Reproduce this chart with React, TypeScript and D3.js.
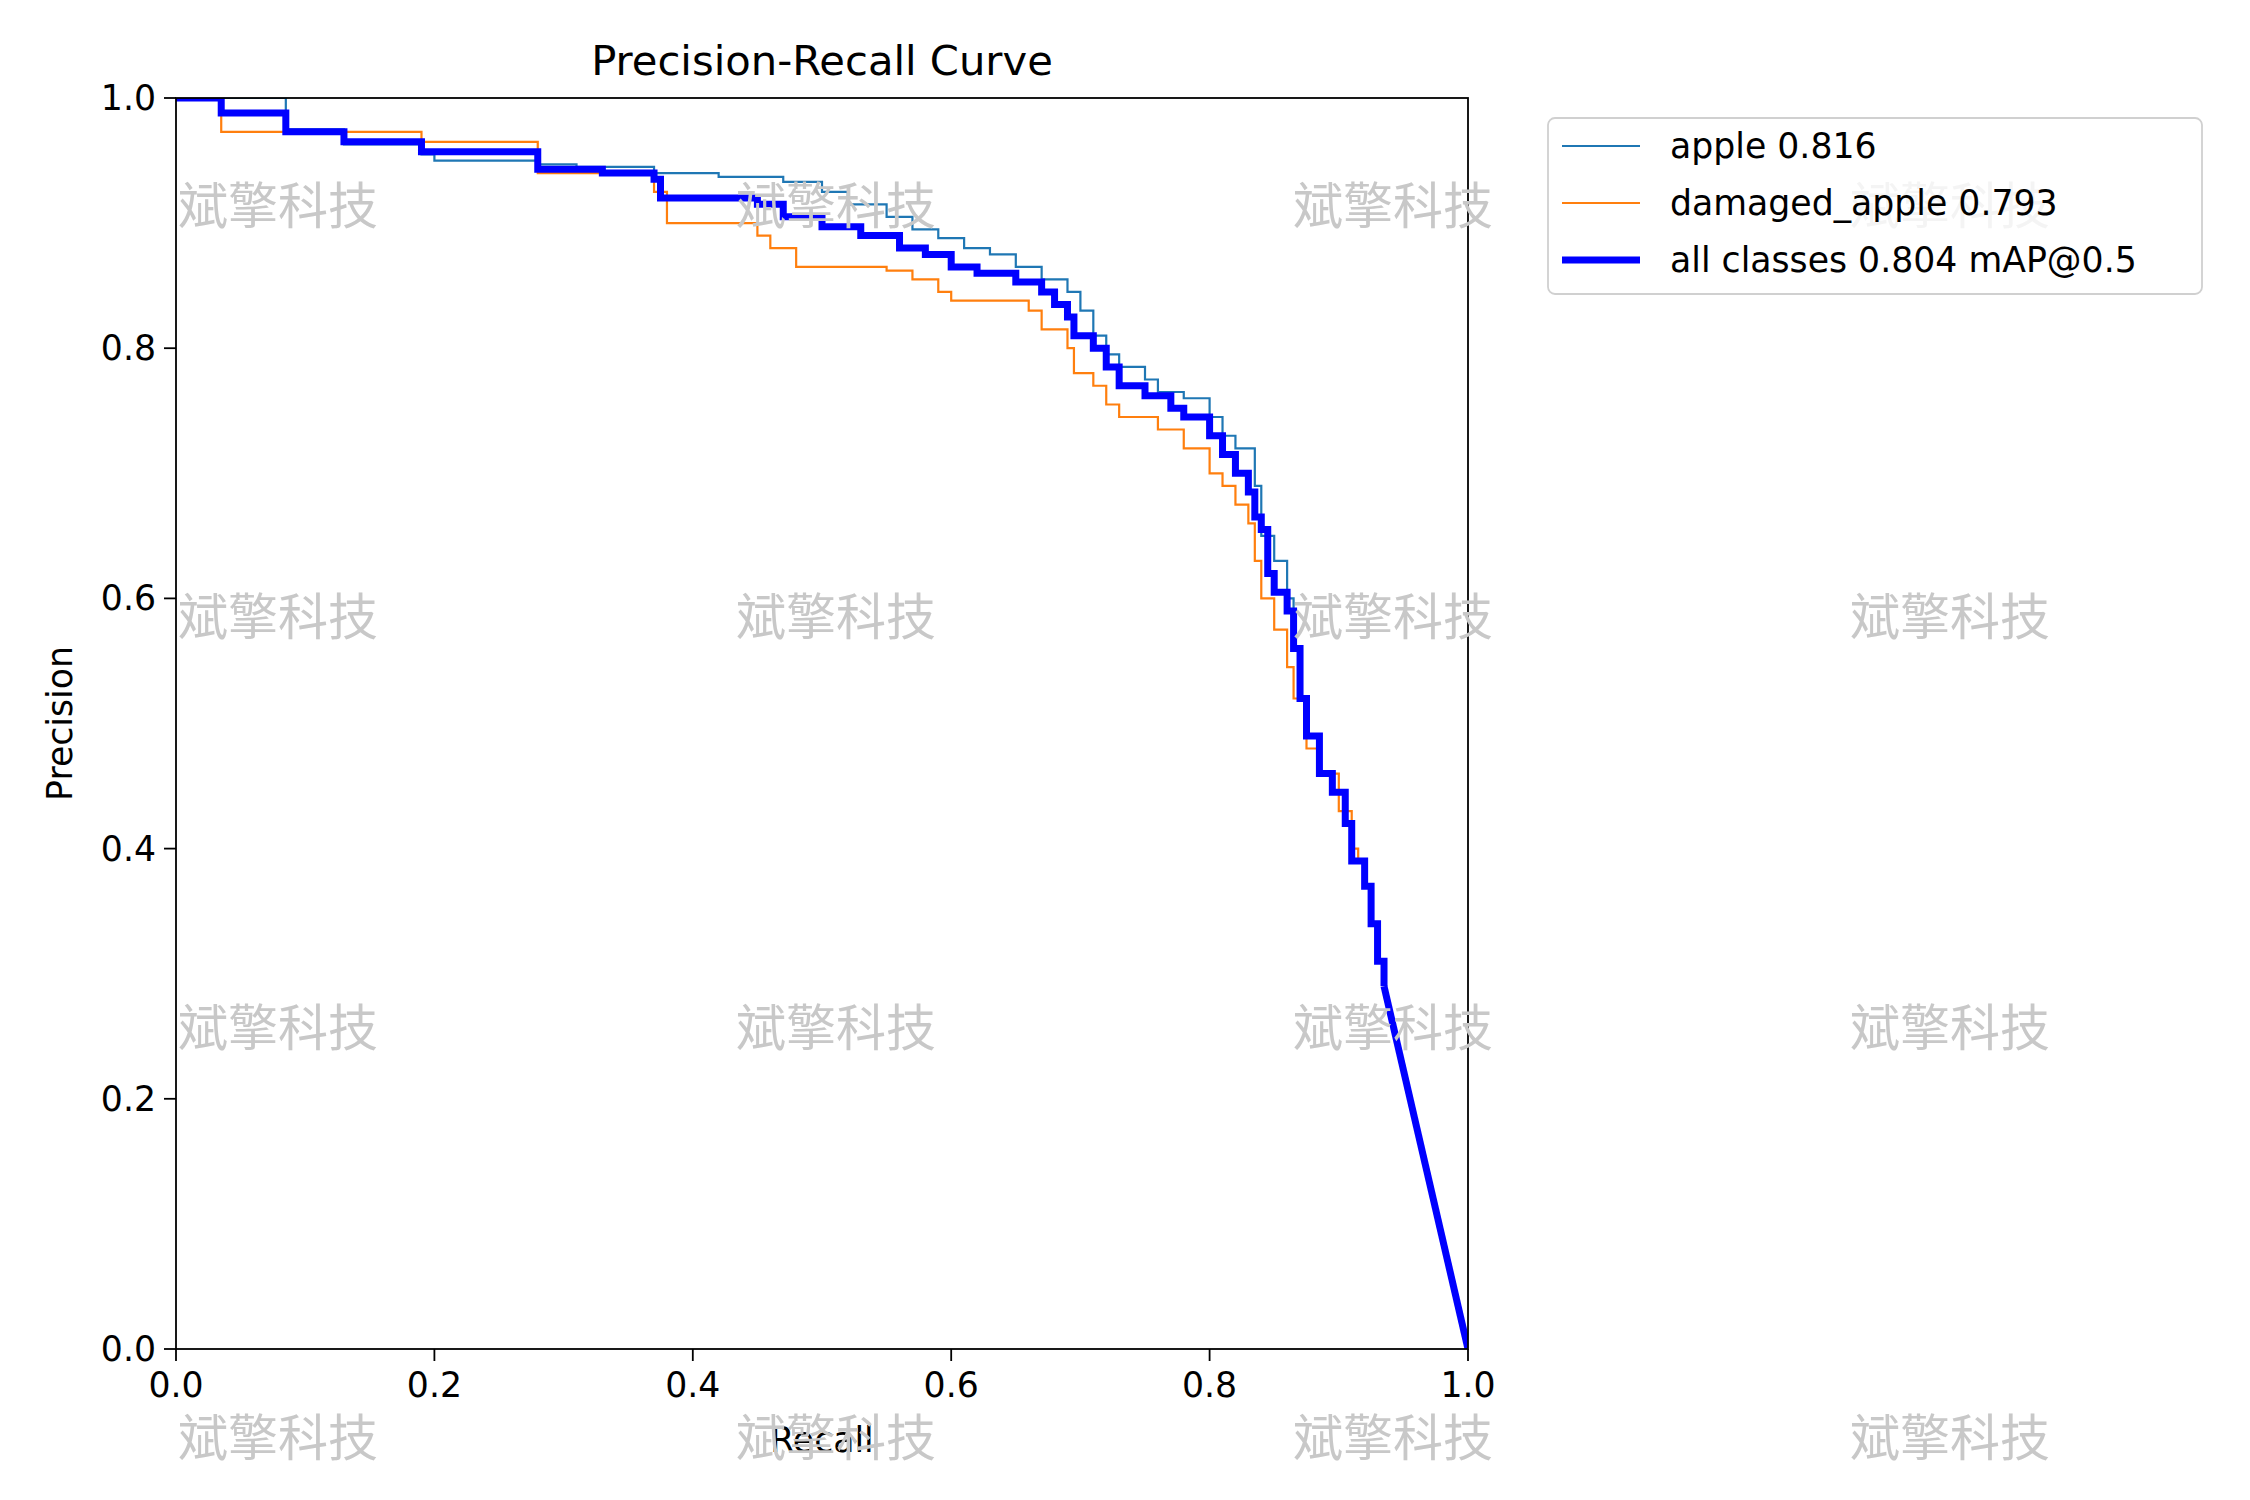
import React from 'react'
import * as d3 from 'd3'

// recall, precision pairs
const appleData: [number, number][] = [
  [0, 1], [0.085, 0.975], [0.13, 0.963], [0.19, 0.955], [0.2, 0.95], [0.28, 0.947], [0.31, 0.945],
  [0.37, 0.94], [0.42, 0.937], [0.47, 0.933], [0.5, 0.925], [0.52, 0.915], [0.55, 0.905],
  [0.57, 0.895], [0.59, 0.888], [0.61, 0.88], [0.63, 0.875], [0.65, 0.865], [0.67, 0.855],
  [0.69, 0.845], [0.7, 0.83], [0.71, 0.81], [0.72, 0.795], [0.73, 0.785], [0.75, 0.775],
  [0.76, 0.765], [0.78, 0.76], [0.8, 0.745], [0.81, 0.73], [0.82, 0.72], [0.835, 0.69],
  [0.84, 0.65], [0.85, 0.63], [0.86, 0.6], [0.865, 0.56], [0.87, 0.52], [0.875, 0.49],
  [0.885, 0.46], [0.895, 0.445], [0.905, 0.42], [0.91, 0.39], [0.92, 0.37], [0.925, 0.34],
]
const damagedData: [number, number][] = [
  [0, 1], [0.035, 0.973], [0.19, 0.965], [0.28, 0.94], [0.37, 0.925], [0.38, 0.9], [0.45, 0.89],
  [0.46, 0.88], [0.48, 0.865], [0.55, 0.862], [0.57, 0.855], [0.59, 0.845], [0.6, 0.838],
  [0.66, 0.83], [0.67, 0.815], [0.69, 0.8], [0.695, 0.78], [0.71, 0.77], [0.72, 0.755],
  [0.73, 0.745], [0.76, 0.735], [0.78, 0.72], [0.8, 0.7], [0.81, 0.69], [0.82, 0.675],
  [0.83, 0.66], [0.835, 0.63], [0.84, 0.6], [0.85, 0.575], [0.86, 0.545], [0.865, 0.52],
  [0.875, 0.48], [0.885, 0.46], [0.9, 0.43], [0.91, 0.4], [0.915, 0.39], [0.92, 0.39],
]
const allData: [number, number][] = [
  [0, 1], [0.035, 0.988], [0.085, 0.973], [0.13, 0.965], [0.19, 0.957], [0.28, 0.943],
  [0.33, 0.94], [0.37, 0.935], [0.375, 0.92], [0.45, 0.915], [0.47, 0.905], [0.5, 0.897],
  [0.53, 0.89], [0.56, 0.88], [0.58, 0.875], [0.6, 0.865], [0.62, 0.86], [0.65, 0.853],
  [0.67, 0.845], [0.68, 0.835], [0.69, 0.825], [0.695, 0.81], [0.71, 0.8], [0.72, 0.785],
  [0.73, 0.77], [0.75, 0.762], [0.77, 0.752], [0.78, 0.745], [0.8, 0.73], [0.81, 0.715],
  [0.82, 0.7], [0.83, 0.685], [0.835, 0.665], [0.84, 0.655], [0.845, 0.62], [0.85, 0.605],
  [0.86, 0.59], [0.865, 0.56], [0.87, 0.52], [0.875, 0.49], [0.885, 0.46], [0.895, 0.445],
  [0.905, 0.42], [0.91, 0.39], [0.92, 0.37], [0.925, 0.34], [0.93, 0.31], [0.935, 0.29],
]
const allTail: [number, number][] = [[0.935, 0.29], [1, 0]]
const ticks = [0, 0.2, 0.4, 0.6, 0.8, 1.0]
const legendItems = [
  { label: 'apple 0.816', color: '#1f77b4', width: 2.2 },
  { label: 'damaged_apple 0.793', color: '#ff7f0e', width: 2.2 },
  { label: 'all classes 0.804 mAP@0.5', color: '#0000ff', width: 7 },
]
const wmX = [278, 836, 1393, 1950]
const wmY = [206, 617, 1028, 1438]

const W = 2250, H = 1500
const L = 176, R = 1468, T = 98, B = 1349
const font = 'DejaVu Sans'

export default function App() {
  const x = d3.scaleLinear().domain([0, 1]).range([L, R])
  const y = d3.scaleLinear().domain([0, 1]).range([B, T])
  const step = d3.line<[number, number]>().x(d => x(d[0])).y(d => y(d[1])).curve(d3.curveStepAfter)
  const lin = d3.line<[number, number]>().x(d => x(d[0])).y(d => y(d[1]))

  return (
    <svg width={W} height={H} style={{ display: 'block', margin: -8 }} fontFamily={font}>
      <rect width={W} height={H} fill="#fff" />
      <defs>
        <clipPath id="plot"><rect x={L} y={T} width={R - L} height={B - T} /></clipPath>
      </defs>
      <g clipPath="url(#plot)" fill="none">
        <path d={step(appleData) ?? ''} stroke="#1f77b4" strokeWidth={2.2} />
        <path d={step(damagedData) ?? ''} stroke="#ff7f0e" strokeWidth={2.2} />
        <path d={step(allData) ?? ''} stroke="#0000ff" strokeWidth={7} />
        <path d={lin(allTail) ?? ''} stroke="#0000ff" strokeWidth={7} />
      </g>
      <rect x={L} y={T} width={R - L} height={B - T} fill="none" stroke="#000" strokeWidth={1.8} />
      {ticks.map(t => (
        <g key={'x' + t}>
          <line x1={x(t)} x2={x(t)} y1={B} y2={B + 12} stroke="#000" strokeWidth={1.8} />
          <text x={x(t)} y={B + 48} textAnchor="middle" fontSize={34.7}>{t.toFixed(1)}</text>
          <line x1={L - 12} x2={L} y1={y(t)} y2={y(t)} stroke="#000" strokeWidth={1.8} />
          <text x={L - 20} y={y(t) + 12} textAnchor="end" fontSize={34.7}>{t.toFixed(1)}</text>
        </g>
      ))}
      <text x={(L + R) / 2} y={75} textAnchor="middle" fontSize={41.7}>Precision-Recall Curve</text>
      <text x={(L + R) / 2} y={1452} textAnchor="middle" fontSize={34.7}>Recall</text>
      <text transform={`translate(72,${(T + B) / 2}) rotate(-90)`} textAnchor="middle" fontSize={34.7}>Precision</text>
      {wmY.map(wy => wmX.map(wx => (
        <text key={wx + '-' + wy} x={wx} y={wy + 18} textAnchor="middle" fontSize={50}
          fontFamily="Noto Sans CJK SC" fill="#c8c8c8">斌擎科技</text>
      )))}
      <rect x={1548} y={118} width={654} height={176} rx={7} fill="#fff" fillOpacity={0.8} stroke="#d0d0d0" strokeWidth={1.8} />
      {legendItems.map((it, i) => (
        <g key={it.label}>
          <line x1={1562} x2={1640} y1={146 + i * 57} y2={146 + i * 57} stroke={it.color} strokeWidth={it.width} />
          <text x={1670} y={158 + i * 57} fontSize={34.7}>{it.label}</text>
        </g>
      ))}
    </svg>
  )
}
